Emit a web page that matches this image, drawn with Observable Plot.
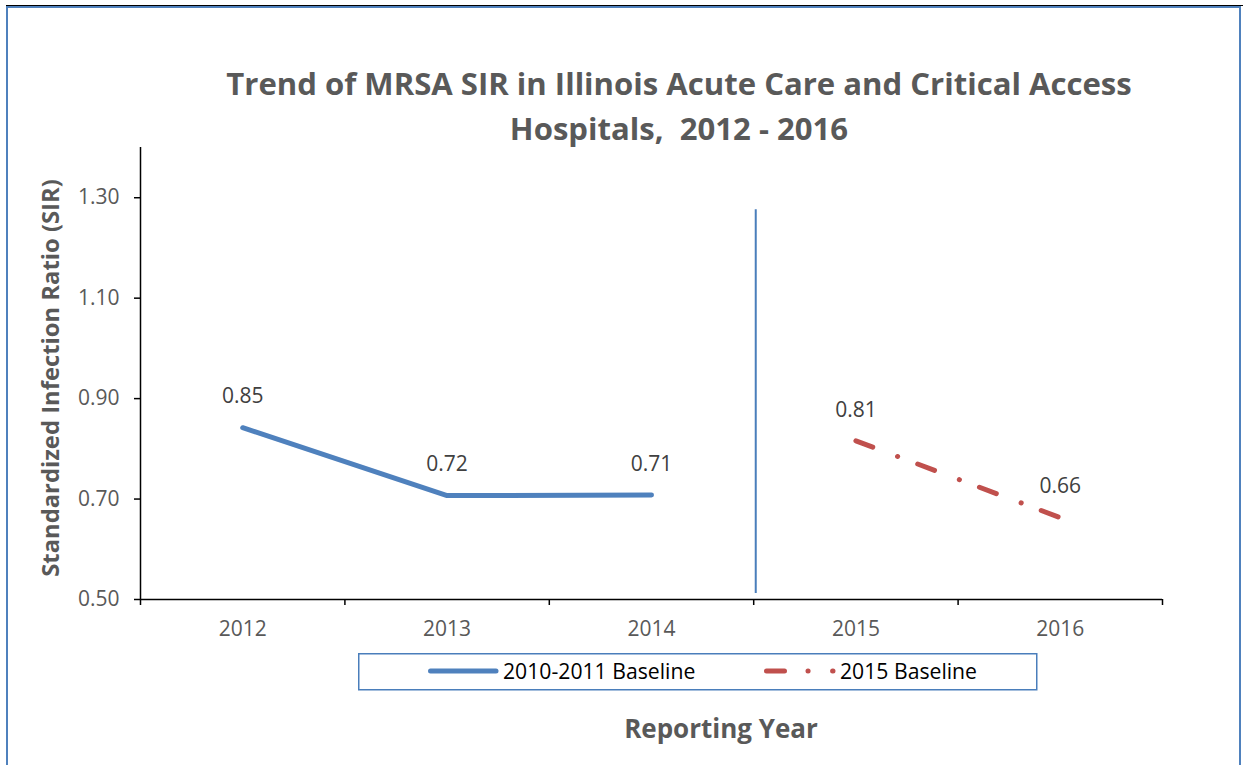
<!DOCTYPE html>
<html>
<head>
<meta charset="utf-8">
<script src="https://cdn.jsdelivr.net/npm/d3@7"></script>
<script src="https://cdn.jsdelivr.net/npm/@observablehq/plot@0.6"></script>
<style>
html, body { margin: 0; padding: 0; background: #fff; }
#wrap { position: relative; width: 1243px; height: 765px; overflow: hidden; font-family: "Open Sans", sans-serif; background: #fff; }
#chart { position: absolute; left: 0; top: 0; }
.t { position: absolute; white-space: pre; line-height: 1; transform: translate(-50%, -50%); }
.title { font-weight: 700; font-size: 31.1px; color: #595959; }
#ylabel { font-weight: 700; font-size: 23.8px; color: #595959; transform: translate(-50%, -50%) rotate(-90deg); }
#xlabel { font-weight: 700; font-size: 26px; color: #595959; }
#frame { position: absolute; left: 6px; top: 6px; width: 1231px; height: 800px; border: 2px solid #4f81bd; pointer-events: none; }
#topline { position: absolute; left: 6px; top: 5px; width: 1237px; height: 1px; background: #000; }
#legend { position: absolute; left: 358px; top: 653px; }
</style>
</head>
<body>
<div id="wrap">
  <div id="chart"></div>
  <div id="frame"></div>
  <div id="topline"></div>
  <div class="t title" style="left:679px;top:84px;">Trend of MRSA SIR in Illinois Acute Care and Critical Access</div>
  <div class="t title" style="left:679px;top:129px;">Hospitals,  2012 - 2016</div>
  <div class="t" id="ylabel" style="left:51px;top:378px;">Standardized Infection Ratio (SIR)</div>
  <div class="t" id="xlabel" style="left:721px;top:728px;">Reporting Year</div>
  <div id="legend"></div>
</div>
<script>
// ---- data ----
const years = [2012, 2013, 2014, 2015, 2016];
const seriesNames = ["2010-2011 Baseline", "2015 Baseline"];
const baselineOldYears = [2012, 2013, 2014];
const baselineOldValues = [0.842, 0.707, 0.708];
const baselineOldLabels = ["0.85", "0.72", "0.71"];
const baselineNewYears = [2015, 2016];
const baselineNewValues = [0.816, 0.663];
const baselineNewLabels = ["0.81", "0.66"];
const yTicks = [0.5, 0.7, 0.9, 1.1, 1.3];
const yDomain = [0.5, 1.4];
const lastOldBaselineYear = 2014;
const separatorSpan = [0.512, 1.276];

// ---- derived tables ----
const oldData = baselineOldYears.map((year, i) => ({year, sir: baselineOldValues[i], label: baselineOldLabels[i]}));
const newData = baselineNewYears.map((year, i) => ({year, sir: baselineNewValues[i], label: baselineNewLabels[i]}));
const xDomain = [years[0] - 0.5, years[years.length - 1] + 0.5];
const boundaries = years.map(y => y - 0.5).concat([years[years.length - 1] + 0.5]);
const separatorX = lastOldBaselineYear + 0.51;

const blue = "#4f81bd", red = "#c0504d", sepBlue = "#4a7ebb";
const newDash = "18 26.5 0.1 21.4";

const chart = Plot.plot({
  width: 1243, height: 765,
  marginLeft: 140, marginRight: 81, marginTop: 147, marginBottom: 166,
  style: {fontFamily: '"Open Sans", sans-serif', fontSize: "21px", background: "transparent", color: "#595959", overflow: "visible"},
  x: {type: "linear", domain: xDomain, label: null},
  y: {domain: yDomain, label: null},
  marks: [
    Plot.ruleX([separatorX], {y1: separatorSpan[0], y2: separatorSpan[1], stroke: sepBlue, strokeWidth: 2}),
    Plot.line(oldData, {x: "year", y: "sir", stroke: blue, strokeWidth: 5, strokeLinecap: "round", strokeLinejoin: "round"}),
    Plot.line(newData, {x: "year", y: "sir", stroke: red, strokeWidth: 5, strokeLinecap: "round", strokeDasharray: newDash}),
    Plot.text(oldData.concat(newData), {x: "year", y: "sir", text: "label", dy: -31, fill: "#404040", fontSize: 21}),
    Plot.axisY({ticks: yTicks, tickFormat: d3.format(".2f"), tickSize: 6, tickPadding: 15, stroke: "#000", strokeWidth: 1.5, fill: "#595959", label: null}),
    Plot.axisX({ticks: boundaries, tickFormat: () => "", tickSize: 6, stroke: "#000", strokeWidth: 1.5, label: null}),
    Plot.axisX({ticks: years, tickFormat: d => String(d), tickSize: 0, tickPadding: 22, fill: "#595959", label: null}),
    Plot.ruleY([yDomain[0]], {stroke: "#000", strokeWidth: 1.5}),
    Plot.ruleX([xDomain[0]], {stroke: "#000", strokeWidth: 1.5})
  ]
});
document.getElementById("chart").appendChild(chart);

// ---- legend ----
const lg = d3.select("#legend").append("svg")
  .attr("width", 680).attr("height", 38)
  .style("display", "block").style("overflow", "visible");
lg.append("rect").attr("x", 0.75).attr("y", 0.75).attr("width", 678).attr("height", 36)
  .attr("fill", "#fff").attr("stroke", sepBlue).attr("stroke-width", 1.5);
const items = [
  {name: seriesNames[0], color: blue, dash: null, x1: 72.5, x2: 138, tx: 145},
  {name: seriesNames[1], color: red, dash: "18 23.5 0.1 24.5", x1: 408.5, x2: 475, tx: 482}
];
items.forEach(it => {
  const l = lg.append("line").attr("x1", it.x1).attr("x2", it.x2).attr("y1", 18).attr("y2", 18)
    .attr("stroke", it.color).attr("stroke-width", 5).attr("stroke-linecap", "round");
  if (it.dash) l.attr("stroke-dasharray", it.dash);
  lg.append("text").attr("x", it.tx).attr("y", 18).attr("dy", "0.36em")
    .attr("font-family", '"Open Sans", sans-serif').attr("font-size", 21.2).attr("fill", "#000")
    .text(it.name);
});
</script>
</body>
</html>
